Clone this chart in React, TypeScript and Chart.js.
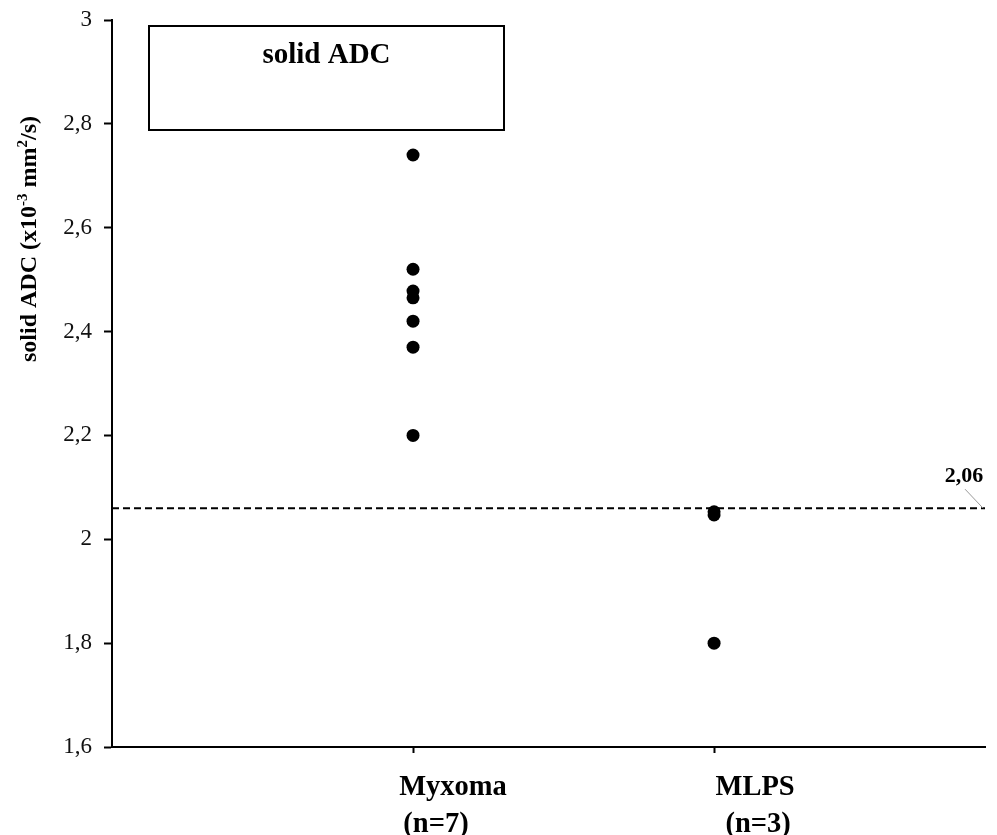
import React, { useEffect, useRef } from "react";
import { Chart, registerables } from "chart.js";

Chart.register(...registerables);

// ---- data ----
const categories = ["Myxoma", "MLPS"];
const groupSizes = ["(n=7)", "(n=3)"];
const categoryPositions = [1, 2];
const myxomaValues = [2.74, 2.52, 2.478, 2.465, 2.42, 2.37, 2.2];
const mlpsValues = [2.053, 2.047, 1.8];
const cutoff = 2.06;
const cutoffLabel = "2,06";
const yTicks = [1.6, 1.8, 2.0, 2.2, 2.4, 2.6, 2.8, 3.0];
const boxTitle = "solid ADC";
const yTitleParts = [
  { text: "solid ADC (x10", sup: false },
  { text: "-3", sup: true },
  { text: " mm", sup: false },
  { text: "2", sup: true },
  { text: "/s)", sup: false },
];

const SERIF = '"Liberation Serif", "Times New Roman", serif';

const fmt = (v: number) => {
  const r = Math.round(v * 10) / 10;
  return Number.isInteger(r) ? String(r) : r.toFixed(1).replace(".", ",");
};

const overlay = {
  id: "overlay",
  afterDraw(chart: any) {
    const { ctx, chartArea: a, scales } = chart;
    const xs = scales.x;
    const ys = scales.y;
    ctx.save();

    // title box
    const bx = a.left + 37;
    const by = a.top + 6;
    const bw = 355;
    const bh = 104;
    ctx.fillStyle = "#fff";
    ctx.fillRect(bx, by, bw, bh);
    ctx.strokeStyle = "#000";
    ctx.lineWidth = 2;
    ctx.strokeRect(bx, by, bw, bh);
    ctx.fillStyle = "#000";
    ctx.font = `bold 29px ${SERIF}`;
    ctx.textAlign = "center";
    ctx.textBaseline = "alphabetic";
    ctx.fillText(boxTitle, bx + bw / 2, by + 37);

    // category labels
    const off1 = [40, 41];
    const off2 = [23, 44];
    ctx.font = `bold 28.5px ${SERIF}`;
    categories.forEach((c, i) => {
      const px = xs.getPixelForValue(categoryPositions[i]);
      ctx.fillText(c, px + off1[i], a.bottom + 48);
      ctx.fillText(groupSizes[i], px + off2[i], a.bottom + 85);
    });

    // cutoff label with leader line
    const ex = xs.getPixelForValue(xs.max) - 2;
    const ey = ys.getPixelForValue(cutoff);
    ctx.strokeStyle = "#999";
    ctx.lineWidth = 1;
    ctx.beginPath();
    ctx.moveTo(ex - 18, ey - 19);
    ctx.lineTo(ex, ey);
    ctx.stroke();
    ctx.font = `bold 22px ${SERIF}`;
    ctx.fillStyle = "#000";
    ctx.fillText(cutoffLabel, ex - 19, ey - 26);

    // y title with superscripts
    ctx.translate(36, a.top + 342);
    ctx.rotate(-Math.PI / 2);
    ctx.textAlign = "left";
    let x = 0;
    yTitleParts.forEach((p) => {
      ctx.font = p.sup ? `bold 15px ${SERIF}` : `bold 24px ${SERIF}`;
      ctx.fillText(p.text, x, p.sup ? -9 : 0);
      x += ctx.measureText(p.text).width;
    });

    ctx.restore();
  },
};

export default function App() {
  const ref = useRef<HTMLCanvasElement>(null);
  useEffect(() => {
    document.body.style.margin = "0";
    const canvas = ref.current!;
    const chart = new Chart(canvas, {
      type: "scatter",
      data: {
        datasets: [
          {
            type: "line",
            data: [
              { x: 0, y: cutoff },
              { x: 2.9, y: cutoff },
            ],
            borderColor: "#000",
            borderWidth: 2,
            borderDash: [7, 4],
            pointRadius: 0,
            fill: false,
          } as any,
          {
            data: myxomaValues.map((v) => ({ x: categoryPositions[0], y: v })),
            backgroundColor: "#000",
            borderWidth: 0,
            pointRadius: 6.5,
            pointHoverRadius: 6.5,
          },
          {
            data: mlpsValues.map((v) => ({ x: categoryPositions[1], y: v })),
            backgroundColor: "#000",
            borderWidth: 0,
            pointRadius: 6.5,
            pointHoverRadius: 6.5,
          },
        ],
      },
      options: {
        responsive: false,
        animation: false,
        events: [],
        layout: { padding: { top: 20, right: 12, left: 0, bottom: 0 } },
        plugins: { legend: { display: false }, tooltip: { enabled: false } },
        scales: {
          x: {
            type: "linear",
            min: 0,
            max: 2.9,
            afterBuildTicks: (s: any) => {
              s.ticks = categoryPositions.map((v) => ({ value: v }));
            },
            afterFit: (s: any) => {
              s.height = 88;
              s.paddingLeft = 0;
              s.paddingRight = 0;
            },
            ticks: { display: false },
            grid: {
              drawOnChartArea: false,
              drawTicks: true,
              tickLength: 6,
              tickColor: "#000",
              tickWidth: 2,
            },
            border: { display: true, color: "#000", width: 2 },
          },
          y: {
            type: "linear",
            min: 1.6,
            max: 3,
            afterBuildTicks: (s: any) => {
              s.ticks = yTicks.map((v) => ({ value: v }));
            },
            afterFit: (s: any) => {
              s.width = 112;
              s.paddingTop = 0;
              s.paddingBottom = 0;
            },
            ticks: {
              callback: (v: any) => fmt(Number(v)),
              font: { family: SERIF, size: 23 },
              color: "#111",
              padding: 12,
            },
            grid: {
              drawOnChartArea: false,
              drawTicks: true,
              tickLength: 8,
              tickColor: "#000",
              tickWidth: 2,
            },
            border: { display: true, color: "#000", width: 2 },
          },
        },
      },
      plugins: [overlay],
    });
    return () => chart.destroy();
  }, []);
  return (
    <div style={{ width: 997, height: 835, background: "#fff" }}>
      <canvas ref={ref} width={997} height={835} />
    </div>
  );
}
